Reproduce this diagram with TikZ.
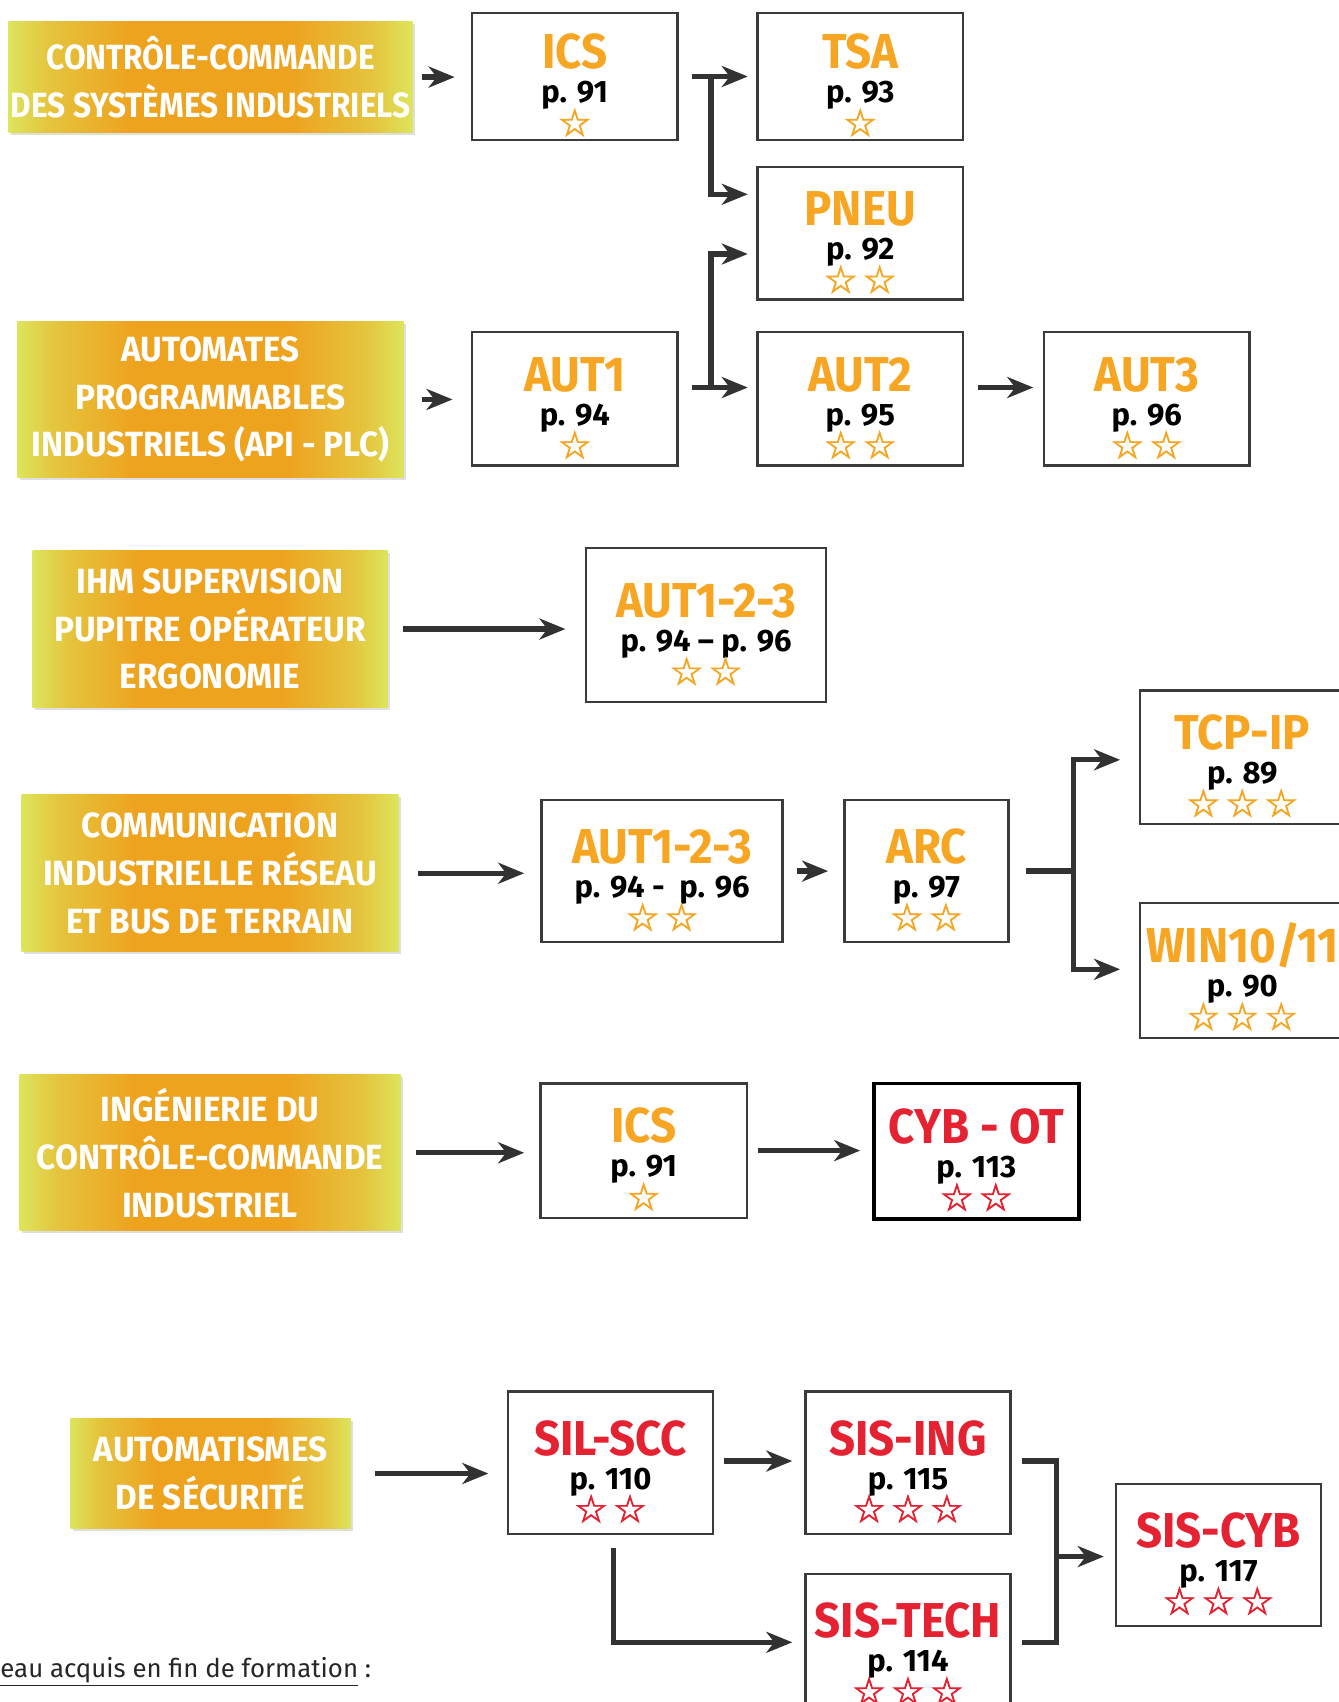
\documentclass[tikz,border=0pt]{standalone}
\usepackage{fontspec}
\usepackage{xcolor}
\usepackage{tikz}
\usetikzlibrary{calc,positioning,shadows,arrows.meta}
\setmainfont{Fira Sans}
\newfontfamily\dinlabel{Fira Sans}[FakeStretch=0.95]
\newfontfamily\dinnarrow{Fira Sans}[FakeStretch=0.9]
\newfontfamily\dintitle{Fira Sans}[FakeStretch=0.93]
\newfontfamily\starfont{DejaVu Sans}[FakeBold=2]
\definecolor{ThemeOrange}{HTML}{EEA31F}
\definecolor{ThemeLime}{HTML}{DCE55C}
\definecolor{CourseOrange}{HTML}{F6A623}
\definecolor{CourseRed}{HTML}{E42231}
\definecolor{FrameGrey}{HTML}{3B3B3B}
\definecolor{ArrowGrey}{HTML}{323232}
\pgfdeclarehorizontalshading{themeshade}{100bp}{color(0bp)=(ThemeLime); color(25bp)=(ThemeLime); color(30bp)=(ThemeOrange!50!ThemeLime); color(40bp)=(ThemeOrange); color(60bp)=(ThemeOrange); color(70bp)=(ThemeOrange!50!ThemeLime); color(75bp)=(ThemeLime); color(100bp)=(ThemeLime)}
\newcommand{\upx}{0.5426pt}
\newcommand{\cstars}[1]{\ifcase#1\or ☆\or ☆\hspace{2.6pt}☆\or ☆\hspace{2.6pt}☆\hspace{2.6pt}☆\fi}
\newcommand{\course}[4]{{\color{#1}\dintitle\bfseries\fontsize{24.5}{26}\selectfont\rule{0pt}{26pt}#2}\\{\bfseries\fontsize{15.5}{17}\selectfont #3}\\[-1.5pt]{\color{#1}\starfont\fontsize{18.8}{18.8}\selectfont\cstars{#4}}}
\tikzset{
  themebox/.style={shading=themeshade,
    drop shadow={opacity=0.25, shadow xshift=1.2pt, shadow yshift=-1.2pt},
    text=white, align=center, inner sep=0pt,
    font=\dinlabel\bfseries\fontsize{17.5}{23.9}\selectfont},
  coursebox/.style={draw=FrameGrey, line width=1.2pt, fill=white, align=center, inner sep=0pt,
    font=\fontsize{15.5}{17}\selectfont},
  cybbox/.style={coursebox, draw=black, line width=1.7pt},
  link/.style={draw=ArrowGrey, line width=2.6pt},
  arr/.style={link, -{Stealth[length=13pt, width=10.5pt, inset=4pt]}},
}
\begin{document}
\begin{tikzpicture}[x=\upx, y=-\upx]
  \useasboundingbox (0,0) rectangle (1233,1568);
  \foreach \n/\x/\y/\w/\h/\t in {lab1/194/71/372/102/{{\dinnarrow CONTRÔLE-COMMANDE}\\{\dinnarrow DES SYSTÈMES INDUSTRIELS}},
    lab2/194/368/356/144/{AUTOMATES\\PROGRAMMABLES\\INDUSTRIELS (API - PLC)},
    lab3/193.5/579.5/327/145/{IHM SUPERVISION\\PUPITRE OPÉRATEUR\\ERGONOMIE},
    lab4/193.5/804.5/347/145/{COMMUNICATION\\INDUSTRIELLE RÉSEAU\\ET BUS DE TERRAIN},
    lab5/193.5/1062/351/144/{INGÉNIERIE DU\\CONTRÔLE-COMMANDE\\INDUSTRIEL},
    lab6/194/1357.5/258/101/{AUTOMATISMES\\DE SÉCURITÉ}} {
    \node[themebox, minimum width=\w*\upx, minimum height=\h*\upx] (\n) at (\x,\y) {\t};
  }
  \foreach \n/\s/\x/\y/\w/\h/\k/\t/\p/\r in {ics1/coursebox/529.5/70.5/189/117/CourseOrange/ICS/p. 91/1,
    tsa/coursebox/792.5/70.5/189/117/CourseOrange/TSA/p. 93/1,
    pneu/coursebox/792.5/215/189/122/CourseOrange/PNEU/p. 92/2,
    aut1/coursebox/529.5/367.5/189/123/CourseOrange/AUT1/p. 94/1,
    aut2/coursebox/792.5/367.5/189/123/CourseOrange/AUT2/p. 95/2,
    aut3/coursebox/1056.5/367.5/189/123/CourseOrange/AUT3/p. 96/2,
    autA/coursebox/650.5/576/221/142/CourseOrange/AUT1-2-3/p. 94 – p. 96/2,
    autB/coursebox/610/802.5/222/131/CourseOrange/AUT1-2-3/p. 94 -\ \ p. 96/2,
    arc/coursebox/853.5/802.5/151/131/CourseOrange/ARC/p. 97/2,
    tcp/coursebox/1144.5/697.5/189/123/CourseOrange/TCP-IP/p. 89/3,
    win/coursebox/1144.5/894/189/124/CourseOrange/{WIN10/11}/p. 90/3,
    ics2/coursebox/593/1060/190/124/CourseOrange/ICS/p. 91/1,
    cyb/cybbox/899.5/1060.5/189/125/CourseRed/CYB - OT/p. 113/2,
    silscc/coursebox/562.5/1347.5/189/131/CourseRed/SIL-SCC/p. 110/2,
    sising/coursebox/836.5/1347.5/189/131/CourseRed/SIS-ING/p. 115/3,
    sistech/coursebox/836.5/1515.5/189/131/CourseRed/SIS-TECH/p. 114/3,
    siscyb/coursebox/1122.5/1432.5/189/131/CourseRed/SIS-CYB/p. 117/3} {
    \node[\s, minimum width=\w*\upx, minimum height=\h*\upx] (\n) at (\x,\y) {\course{\k}{\t}{\p}{\r}};
  }
  \coordinate (fkA) at (655,70.5);
  \coordinate (fkB) at (655,357);
  \coordinate (fkC) at (989,802.5);
  \coordinate (jn) at (973,1434);
  \draw[arr, shorten <=8*\upx, shorten >=15*\upx] (lab1.east) -- (lab1.east -| ics1.west);
  \draw[arr, shorten <=12*\upx, shorten >=8*\upx] (ics1.east) -- (ics1.east -| tsa.west);
  \draw[arr, shorten >=8*\upx] (fkA) |- ($(pneu.west)+(0,-36)$);
  \draw[arr, shorten <=16*\upx, shorten >=17*\upx] (lab2.east) -- (lab2.east -| aut1.west);
  \draw[arr, shorten <=12*\upx, shorten >=8*\upx] ($(aut1.east)+(0,-10.5)$) -- ($(aut2.west)+(0,-10.5)$);
  \draw[arr, shorten >=8*\upx] (fkB) |- ($(pneu.west)+(0,19)$);
  \draw[arr, shorten <=13*\upx, shorten >=9*\upx] ($(aut2.east)+(0,-10.5)$) -- ($(aut3.west)+(0,-10.5)$);
  \draw[arr, shorten <=14*\upx, shorten >=18*\upx] (lab3.east) -- (lab3.east -| autA.west);
  \draw[arr, shorten <=18*\upx, shorten >=15*\upx] (lab4.east) -- (lab4.east -| autB.west);
  \draw[arr, shorten <=12*\upx, shorten >=14*\upx] (autB.east) -- (arc.west);
  \draw[link, shorten <=15*\upx] (arc.east) -- (fkC);
  \draw[arr, shorten >=17*\upx] (fkC) |- ($(tcp.west)+(0,2.5)$);
  \draw[arr, shorten >=17*\upx] (fkC) |- ($(win.west)+(0,-1)$);
  \draw[arr, shorten <=14*\upx, shorten >=14*\upx] (lab5.east) -- (lab5.east -| ics2.west);
  \draw[arr, shorten <=9*\upx, shorten >=11*\upx] (ics2.east) -- (ics2.east -| cyb.west);
  \draw[arr, shorten <=22*\upx, shorten >=17*\upx] (lab6.east) -- (lab6.east -| silscc.west);
  \draw[arr, shorten <=9*\upx, shorten >=11*\upx] ($(silscc.east)+(0,-1.5)$) -- ($(sising.west)+(0,-1.5)$);
  \draw[arr, shorten <=12*\upx, shorten >=11*\upx] ($(silscc.south)+(2.5,0)$) |- ($(sistech.west)+(0,-2.5)$);
  \draw[link, shorten <=9*\upx, shorten >=9*\upx] ($(sising.east)+(0,-1.5)$) -| (jn) |- ($(sistech.east)+(0,-2.5)$);
  \draw[arr, shorten >=10*\upx] (jn) -- (jn -| siscyb.west);
  \node[anchor=base west, inner sep=0pt, font=\fontsize{12.9}{14}\selectfont, text=black!85] (level) at (0,1545) {\underline{eau acquis en fin de formation} :};
\end{tikzpicture}
\end{document}
